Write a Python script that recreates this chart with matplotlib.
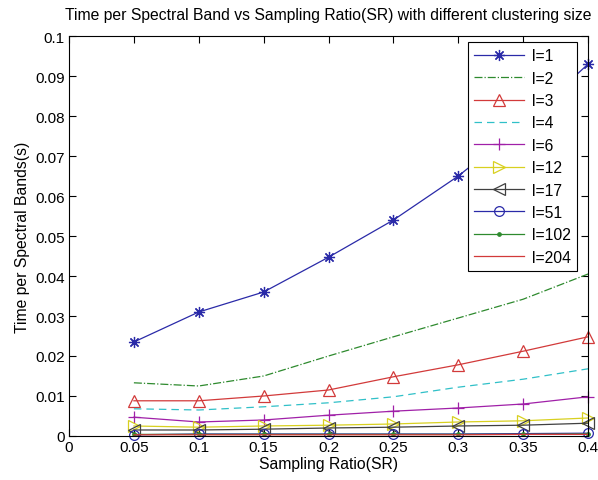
import matplotlib

matplotlib.use("Agg")
import matplotlib.pyplot as plt

# ── Data ─────────────────────────────────────────────────────────────
sr = [0.05, 0.10, 0.15, 0.20, 0.25, 0.30, 0.35, 0.40]
labels = ["l=1", "l=2", "l=3", "l=4", "l=6", "l=12", "l=17", "l=51", "l=102", "l=204"]

t_l1 = [0.0235, 0.0310, 0.0360, 0.0447, 0.0540, 0.0650, 0.0780, 0.0930]
t_l2 = [0.0133, 0.0125, 0.0150, 0.0200, 0.0248, 0.0295, 0.0342, 0.0405]
t_l3 = [0.0088, 0.0088, 0.0100, 0.0115, 0.0148, 0.0178, 0.0212, 0.0248]
t_l4 = [0.0068, 0.0065, 0.0073, 0.0083, 0.0098, 0.0122, 0.0142, 0.0168]
t_l6 = [0.0047, 0.0035, 0.0040, 0.0052, 0.0062, 0.0070, 0.0080, 0.0098]
t_l12 = [0.0025, 0.0022, 0.0025, 0.0027, 0.0030, 0.0035, 0.0038, 0.0045]
t_l17 = [0.0015, 0.0015, 0.0017, 0.0020, 0.0022, 0.0025, 0.0027, 0.0032]
t_l51 = [0.0003, 0.0005, 0.0005, 0.0005, 0.0005, 0.0005, 0.0006, 0.0007]
t_l102 = [0.0004, 0.0004, 0.0004, 0.0004, 0.0004, 0.0004, 0.0004, 0.0005]
t_l204 = [0.0003, 0.0003, 0.0003, 0.0003, 0.0003, 0.0003, 0.0004, 0.0004]

xticks = [0, 0.05, 0.1, 0.15, 0.2, 0.25, 0.3, 0.35, 0.4]
xtick_labels = ["0", "0.05", "0.1", "0.15", "0.2", "0.25", "0.3", "0.35", "0.4"]
yticks = [0, 0.01, 0.02, 0.03, 0.04, 0.05, 0.06, 0.07, 0.08, 0.09, 0.1]
ytick_labels = ["0", "0.01", "0.02", "0.03", "0.04", "0.05", "0.06", "0.07", "0.08", "0.09", "0.1"]

# ── Styles (old MATLAB colour order) ─────────────────────────────────
series = [
    (t_l1, dict(color="#2a2aa8", marker=(8, 2, 0), linestyle="-", markersize=8)),
    (t_l2, dict(color="#2e8a2e", marker="", linestyle="-.")),
    (t_l3, dict(color="#d23a3a", marker="^", linestyle="-", markersize=9, markerfacecolor="none")),
    (t_l4, dict(color="#30c0c8", marker="", linestyle="--", dashes=(6, 4))),
    (t_l6, dict(color="#a020a8", marker="+", linestyle="-", markersize=9)),
    (t_l12, dict(color="#d8d020", marker=">", linestyle="-", markersize=8, markerfacecolor="none")),
    (t_l17, dict(color="#404040", marker="<", linestyle="-", markersize=8, markerfacecolor="none")),
    (t_l51, dict(color="#2a2aa8", marker="o", linestyle="-", markersize=7, markerfacecolor="none")),
    (t_l102, dict(color="#2e8a2e", marker=".", linestyle="-", markersize=5)),
    (t_l204, dict(color="#d23a3a", marker="", linestyle="-")),
]

plt.rcParams["font.family"] = ["Liberation Sans", "DejaVu Sans"]
plt.rcParams["font.size"] = 11

fig = plt.figure(figsize=(5.98, 4.81), dpi=100)
ax = fig.add_axes([0.1154, 0.0915, 0.868, 0.8315])

for (vals, style), lab in zip(series, labels):
    ax.plot(sr, vals, linewidth=0.9, markeredgewidth=0.9, label=lab, clip_on=False, **style)

ax.set_xlim(0, 0.4)
ax.set_ylim(0, 0.1)
ax.set_xticks(xticks)
ax.set_xticklabels(xtick_labels)
ax.set_yticks(yticks)
ax.set_yticklabels(ytick_labels)
ax.tick_params(direction="in", top=True, right=True, length=5, width=0.8, labelsize=11, pad=3)
for s in ax.spines.values():
    s.set_linewidth(0.8)

ax.set_title("Time per Spectral Band vs Sampling Ratio(SR) with different clustering size",
             fontsize=11.3, pad=12)
ax.set_xlabel("Sampling Ratio(SR)", fontsize=11.3, labelpad=1)
ax.set_ylabel("Time per Spectral Bands(s)", fontsize=11.3, labelpad=4)

leg = ax.legend(loc="upper right", bbox_to_anchor=(0.979, 0.985), fancybox=False,
                framealpha=1, edgecolor="black", fontsize=11.3, handlelength=3.2,
                labelspacing=0.47, borderpad=0.4, handletextpad=0.5, borderaxespad=0)
leg.get_frame().set_linewidth(0.8)

fig.savefig("out.png", dpi=100)
